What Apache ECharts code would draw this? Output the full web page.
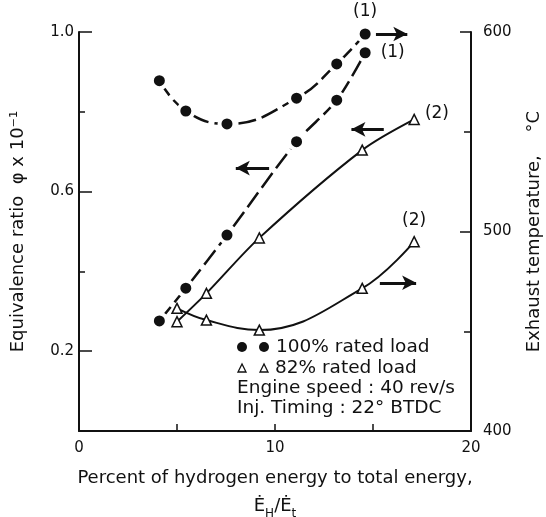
<!DOCTYPE html>
<html lang="en">

<head>
    <meta charset="UTF-8">
    <script src="https://cdn.jsdelivr.net/npm/echarts@6/dist/echarts.min.js"></script>
    <title>Hydrogen energy</title>
    <style>
        html, body { margin: 0; padding: 0; background: #fff; }
        #main { width: 546px; height: 517px; }
    </style>
</head>

<body>
    <div id="main"></div>
    <script>
        // percent of hydrogen energy, 100% rated load (1)
        var hydrogen100 = [4.1, 5.45, 7.55, 11.1, 13.15, 14.6];
        var phi100 = [0.276, 0.358, 0.491, 0.725, 0.829, 0.948];
        var temp100 = [575.6, 560.4, 553.9, 566.8, 584.0, 599.0];
        // 82% rated load (2)
        var hydrogen82 = [5.0, 6.5, 9.2, 14.45, 17.1];
        var phi82 = [0.274, 0.345, 0.484, 0.704, 0.781];
        var temp82 = [461.5, 455.6, 450.6, 471.5, 494.9];

        var xLabels = [0, 10, 20];
        var phiLabels = [0.2, 0.6, 1.0];
        var tempLabels = [400, 500, 600];

        var ink = '#111';
        var font = 'DejaVu Sans';

        function pairs(xs, ys, lastLabel) {
            return xs.map(function (x, i) {
                var item = { value: [x, ys[i]] };
                if (i === xs.length - 1 && lastLabel) item.label = lastLabel;
                return item;
            });
        }

        function arrow(from, to) {
            return {
                silent: true,
                symbol: ['none', 'arrow'],
                symbolSize: [11, 14],
                label: { show: false },
                lineStyle: { color: ink, width: 3, type: 'solid' },
                data: [[{ coord: from }, { coord: to }]]
            };
        }

        var tagStyle = { show: true, fontFamily: font, fontSize: 17, color: ink };

        var chart = echarts.init(document.getElementById('main'));
        var option = {
            animation: false,
            backgroundColor: '#fff',
            grid: {
                left: 79, right: 75, top: 32, bottom: 86,
                containLabel: false, outerBoundsMode: 'none'
            },
            xAxis: {
                type: 'value',
                min: 0, max: 20, interval: 5,
                name: 'Percent of hydrogen energy to total energy,\n{e|Ė}{s|H}{e|/Ė}{s|t}',
                nameLocation: 'middle',
                nameGap: 33,
                nameTextStyle: {
                    fontFamily: font, fontSize: 18, color: ink, lineHeight: 28,
                    rich: {
                        e: { fontFamily: font, fontSize: 18, color: ink },
                        s: { fontFamily: font, fontSize: 12, color: ink, verticalAlign: 'bottom', padding: [8, 0, 0, 0] }
                    }
                },
                axisLine: { lineStyle: { color: ink, width: 2 } },
                axisTick: { inside: true, length: 7, customValues: [5, 10, 15], lineStyle: { color: ink, width: 1.5 } },
                axisLabel: { customValues: xLabels, margin: 10, fontFamily: font, fontSize: 15, color: ink },
                splitLine: { show: false }
            },
            yAxis: [
                {
                    type: 'value', position: 'left',
                    min: 0, max: 1, interval: 0.2,
                    name: 'Equivalence ratio  φ x 10⁻¹',
                    nameLocation: 'middle', nameGap: 52,
                    nameTextStyle: { fontFamily: font, fontSize: 18, color: ink },
                    axisLine: { show: true, lineStyle: { color: ink, width: 2 } },
                    axisTick: { inside: true, length: 13, customValues: [0.2, 0.6, 1.0], lineStyle: { color: ink, width: 1.5 } },
                    axisLabel: {
                        customValues: phiLabels, margin: 5, fontFamily: font, fontSize: 15, color: ink,
                        formatter: function (v) { return v.toFixed(1); }
                    },
                    splitLine: { show: false }
                },
                {
                    type: 'value', position: 'right',
                    min: 400, max: 600, interval: 50,
                    name: 'Exhaust temperature,    °C',
                    nameLocation: 'middle', nameGap: 54,
                    nameTextStyle: { fontFamily: font, fontSize: 18, color: ink },
                    axisLine: { show: true, lineStyle: { color: ink, width: 2 } },
                    axisTick: { inside: true, length: 11, customValues: [500, 600], lineStyle: { color: ink, width: 1.5 } },
                    axisLabel: { customValues: tempLabels, margin: 12, fontFamily: font, fontSize: 15, color: ink },
                    splitLine: { show: false }
                },
                {
                    // short minor ticks on the left
                    type: 'value', position: 'left', min: 0, max: 1,
                    axisLine: { show: false },
                    axisTick: { inside: true, length: 6, customValues: [0.4, 0.8], lineStyle: { color: ink, width: 1.5 } },
                    axisLabel: { show: false },
                    splitLine: { show: false }
                },
                {
                    // short minor ticks on the right
                    type: 'value', position: 'right', min: 400, max: 600,
                    axisLine: { show: false },
                    axisTick: { inside: true, length: 7, customValues: [450, 550], lineStyle: { color: ink, width: 1.5 } },
                    axisLabel: { show: false },
                    splitLine: { show: false }
                }
            ],
            series: [
                {
                    name: 'phi 100%',
                    type: 'line', yAxisIndex: 0, smooth: 0.3,
                    symbol: 'circle', symbolSize: 15,
                    itemStyle: { color: ink, borderColor: '#fff', borderWidth: 4 },
                    lineStyle: { color: ink, width: 2.5, type: [18, 6] },
                    data: pairs(hydrogen100, phi100, Object.assign({ position: 'right', distance: 6, formatter: '(1)' }, tagStyle)),
                    markLine: arrow([9.7, 0.659], [8.0, 0.659])
                },
                {
                    name: 'temp 100%',
                    type: 'line', yAxisIndex: 1, smooth: 0.45,
                    symbol: 'circle', symbolSize: 15,
                    itemStyle: { color: ink, borderColor: '#fff', borderWidth: 4 },
                    lineStyle: { color: ink, width: 2.5, type: [18, 6] },
                    data: pairs(hydrogen100, temp100, Object.assign({ position: 'top', distance: 4, formatter: '(1)' }, tagStyle)),
                    markLine: arrow([15.15, 599], [16.75, 599])
                },
                {
                    name: 'phi 82%',
                    type: 'line', yAxisIndex: 0, smooth: 0.3,
                    symbol: 'triangle', symbolSize: 10,
                    itemStyle: { color: '#fff', borderColor: ink, borderWidth: 1.5 },
                    lineStyle: { color: ink, width: 2 },
                    data: pairs(hydrogen82, phi82, Object.assign({ position: 'right', distance: 5, offset: [0, -6], formatter: '(2)' }, tagStyle)),
                    markLine: arrow([15.55, 0.756], [13.9, 0.756])
                },
                {
                    name: 'temp 82%',
                    type: 'line', yAxisIndex: 1, smooth: 0.4,
                    symbol: 'triangle', symbolSize: 10,
                    itemStyle: { color: '#fff', borderColor: ink, borderWidth: 1.5 },
                    lineStyle: { color: ink, width: 2 },
                    data: pairs(hydrogen82, temp82, Object.assign({ position: 'top', distance: 7, formatter: '(2)' }, tagStyle)),
                    markLine: arrow([15.35, 474.3], [17.2, 474.3])
                }
            ],
            graphic: [
                { type: 'circle', shape: { cx: 242, cy: 347, r: 5 }, style: { fill: ink } },
                { type: 'circle', shape: { cx: 264, cy: 347, r: 5 }, style: { fill: ink } },
                { type: 'polygon', shape: { points: [[242, 364], [238, 372], [246, 372]] }, style: { fill: '#fff', stroke: ink, lineWidth: 1.3 } },
                { type: 'polygon', shape: { points: [[264, 364], [260, 372], [268, 372]] }, style: { fill: '#fff', stroke: ink, lineWidth: 1.3 } },
                { type: 'text', x: 276, y: 347, style: { text: '100% rated load', font: '18.5px DejaVu Sans', fill: ink, verticalAlign: 'middle' } },
                { type: 'text', x: 275, y: 368, style: { text: '82% rated load', font: '18.5px DejaVu Sans', fill: ink, verticalAlign: 'middle' } },
                { type: 'text', x: 237, y: 388, style: { text: 'Engine speed : 40 rev/s', font: '18.5px DejaVu Sans', fill: ink, verticalAlign: 'middle' } },
                { type: 'text', x: 237, y: 408, style: { text: 'Inj. Timing : 22° BTDC', font: '18.5px DejaVu Sans', fill: ink, verticalAlign: 'middle' } }
            ]
        };
        chart.setOption(option);
    </script>
</body>

</html>
